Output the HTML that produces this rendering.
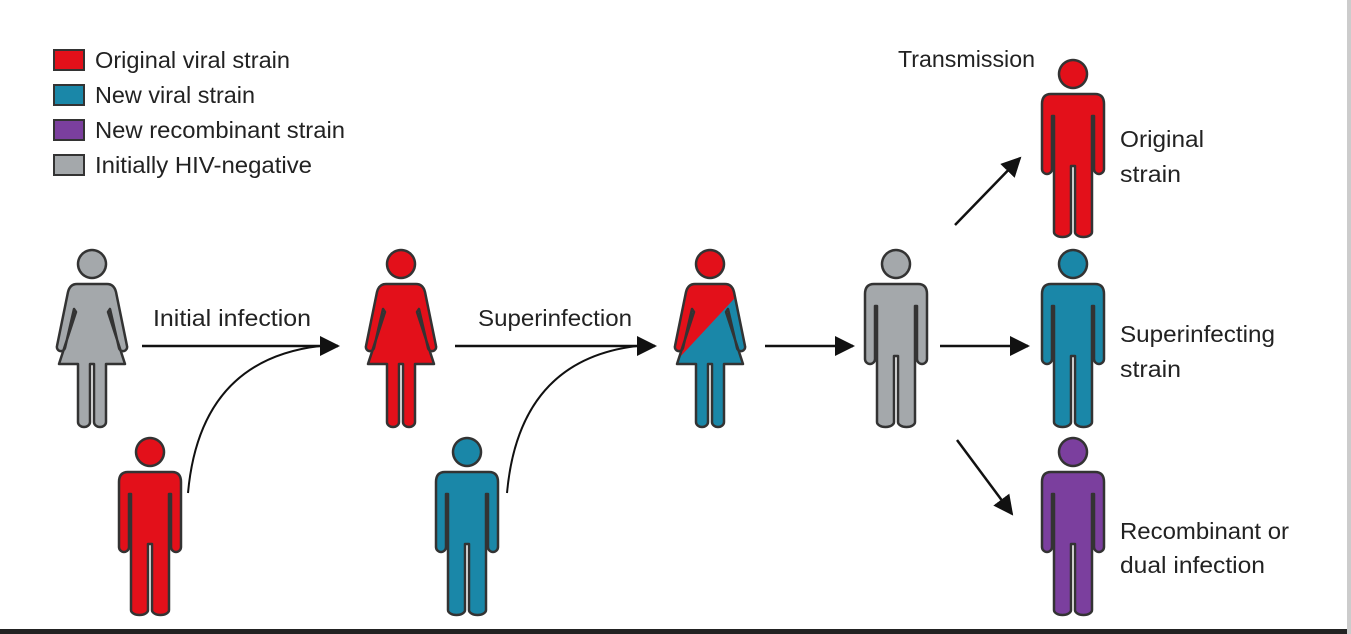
<!DOCTYPE html>
<html><head><meta charset="utf-8"><style>
html,body{margin:0;padding:0;background:#fff;}
svg{display:block;}
text{font-family:"Liberation Sans",sans-serif;fill:#222;}
</style></head><body>
<svg width="1351" height="634" viewBox="0 0 1351 634" xmlns="http://www.w3.org/2000/svg">
<defs>
<path id="man" d="M -22,20 Q -31,20 -31,30 L -31,95 A 5,5 0 0 0 -21,95 L -21,42 L -19,42 L -19,158 A 8.5,5 0 0 0 -2,158 L -2,92 L 2,92 L 2,158 A 8.5,5 0 0 0 19,158 L 19,42 L 21,42 L 21,95 A 5,5 0 0 0 31,95 L 31,30 Q 31,20 22,20 Z M 0,-14 A 14,14 0 1 0 0.01,-14 Z"/>
<path id="woman" d="M -15,20 Q -22,20 -24,28 L -35,82 A 4,4 0 0 0 -27,84 L -18,45 L -16,48 L -33,100 L -14,100 L -14,158 A 6,5 0 0 0 -2,158 L -2,100 L 2,100 L 2,158 A 6,5 0 0 0 14,158 L 14,100 L 33,100 L 16,48 L 18,45 L 27,84 A 4,4 0 0 0 35,82 L 24,28 Q 22,20 15,20 Z M 0,-14 A 14,14 0 1 0 0.01,-14 Z"/>
<marker id="ah2" markerWidth="20" markerHeight="20" refX="18" refY="10" orient="auto" markerUnits="userSpaceOnUse" viewBox="0 0 20 20"><path d="M0,0 L20,10 L0,20 Z" fill="#111"/></marker>
<clipPath id="redclip" clipPathUnits="userSpaceOnUse"><polygon points="600,200 800,200 800,228 640,400 600,400"/></clipPath>
</defs>
<g stroke="#333" stroke-width="2.5" stroke-linejoin="round">
<use href="#woman" x="92" y="264" fill="#a4a8ab"/>
<use href="#man" x="150" y="452" fill="#e3101a"/>
<use href="#woman" x="401" y="264" fill="#e3101a"/>
<use href="#man" x="467" y="452" fill="#1a87a8"/>
<use href="#woman" x="710" y="264" fill="#1a87a8" stroke="none"/>
<g clip-path="url(#redclip)"><use href="#woman" x="710" y="264" fill="#e3101a" stroke="none"/></g>
<use href="#woman" x="710" y="264" fill="none"/>
<use href="#man" x="896" y="264" fill="#a4a8ab"/>
<use href="#man" x="1073" y="74" fill="#e3101a"/>
<use href="#man" x="1073" y="264" fill="#1a87a8"/>
<use href="#man" x="1073" y="452" fill="#7b3f9e"/>
</g>
<g stroke="#111" stroke-width="2.5" fill="none">
<line x1="142" y1="346" x2="338" y2="346" marker-end="url(#ah2)"/>
<path d="M188,493 Q200,360 320,346" stroke-width="2"/>
<line x1="455" y1="346" x2="655" y2="346" marker-end="url(#ah2)"/>
<path d="M507,493 Q519,360 637,346" stroke-width="2"/>
<line x1="765" y1="346" x2="853" y2="346" marker-end="url(#ah2)"/>
<line x1="940" y1="346" x2="1028" y2="346" marker-end="url(#ah2)"/>
<line x1="955" y1="225" x2="1020" y2="158" marker-end="url(#ah2)"/>
<line x1="957" y1="440" x2="1012" y2="514" marker-end="url(#ah2)"/>
</g>
<g stroke="#333" stroke-width="2">
<rect x="54" y="50" width="30" height="20" fill="#e3101a"/>
<rect x="54" y="85" width="30" height="20" fill="#1a87a8"/>
<rect x="54" y="120" width="30" height="20" fill="#7b3f9e"/>
<rect x="54" y="155" width="30" height="20" fill="#a4a8ab"/>
</g>
<g font-size="23">
<text x="95" y="68" textLength="195" lengthAdjust="spacingAndGlyphs">Original viral strain</text>
<text x="95" y="103" textLength="160" lengthAdjust="spacingAndGlyphs">New viral strain</text>
<text x="95" y="138" textLength="250" lengthAdjust="spacingAndGlyphs">New recombinant strain</text>
<text x="95" y="173" textLength="217" lengthAdjust="spacingAndGlyphs">Initially HIV-negative</text>
<text x="153" y="326" textLength="158" lengthAdjust="spacingAndGlyphs">Initial infection</text>
<text x="478" y="326" textLength="154" lengthAdjust="spacingAndGlyphs">Superinfection</text>
<text x="898" y="67" textLength="137" lengthAdjust="spacingAndGlyphs">Transmission</text>
<text x="1120" y="147" textLength="84" lengthAdjust="spacingAndGlyphs">Original</text>
<text x="1120" y="182" textLength="61" lengthAdjust="spacingAndGlyphs">strain</text>
<text x="1120" y="342" textLength="155" lengthAdjust="spacingAndGlyphs">Superinfecting</text>
<text x="1120" y="377" textLength="61" lengthAdjust="spacingAndGlyphs">strain</text>
<text x="1120" y="539" textLength="169" lengthAdjust="spacingAndGlyphs">Recombinant or</text>
<text x="1120" y="573" textLength="145" lengthAdjust="spacingAndGlyphs">dual infection</text>
</g>
<rect x="0" y="629" width="1351" height="5" fill="#222"/>
<rect x="1347" y="0" width="4" height="634" fill="#ccc"/>
</svg>
</body></html>
